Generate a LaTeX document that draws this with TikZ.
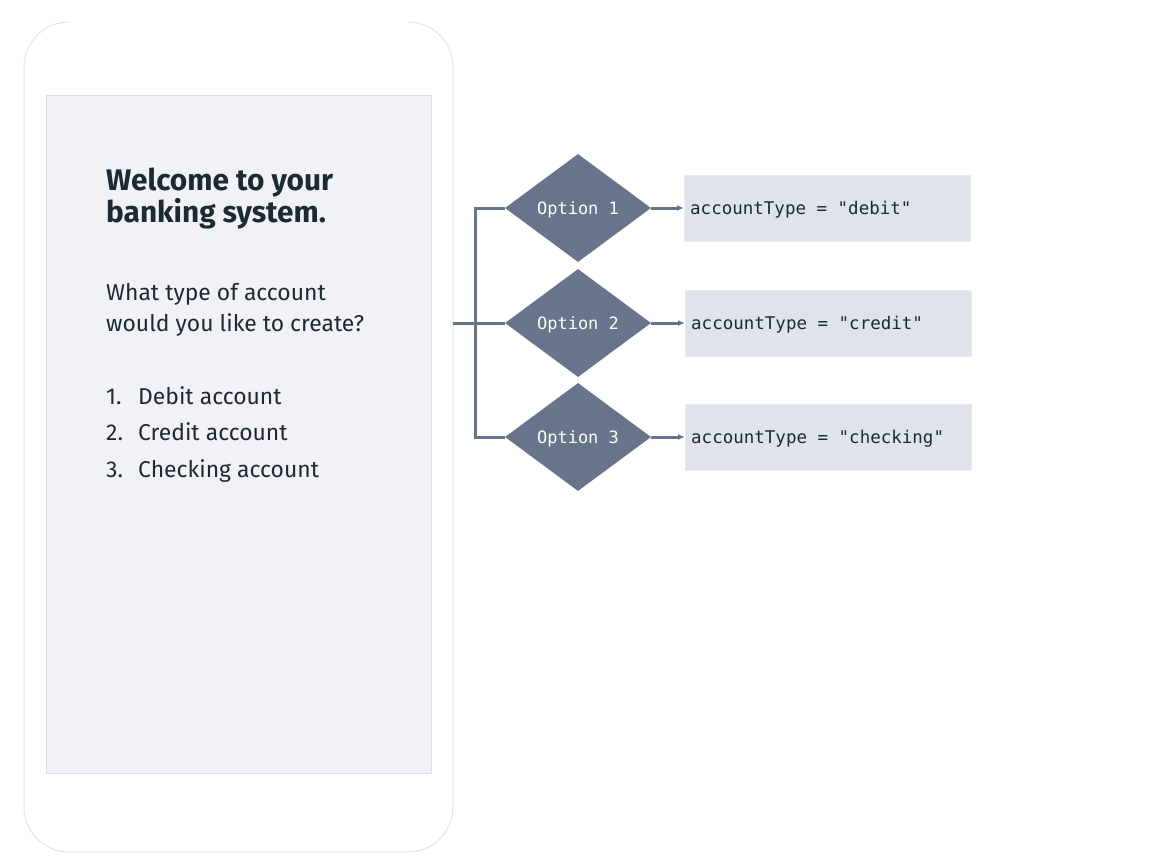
\documentclass[tikz,border=0pt]{standalone}
\usepackage{fontspec}
\setmainfont{Fira Sans}
\setmonofont{DejaVu Sans Mono}
\usetikzlibrary{shapes.geometric}
\usetikzlibrary{arrows.meta}
\definecolor{phoneline}{HTML}{E3E5EA}
\definecolor{screenfill}{HTML}{F1F2F6}
\definecolor{screenline}{HTML}{DCDFE5}
\definecolor{ink}{HTML}{1C2B33}
\definecolor{slate}{HTML}{67748A}
\definecolor{boxfill}{HTML}{DFE3EB}
\definecolor{boxline}{HTML}{E9ECF1}
\tikzstyle{decision}=[diamond, fill=slate, minimum width=146pt, minimum height=108pt, inner sep=0,
                      text depth=0pt, text=white, font=\ttfamily\fontsize{17}{17}\selectfont]
\tikzstyle{assign}=[rectangle, draw=boxline, fill=boxfill, minimum height=66pt, text width=274pt,
                    inner xsep=6pt, inner ysep=0, text depth=0pt, align=flush left, anchor=west,
                    text=ink, font=\ttfamily\fontsize{17.5}{17.5}\selectfont]
\tikzstyle{flow}=[draw=slate, line width=3pt]
\tikzstyle{screentext}=[inner sep=0, anchor=base west, text=ink]
\tikzstyle{heading}=[screentext, font=\fontsize{29.8}{29.8}\selectfont\fontseries{sb}\selectfont]
\tikzstyle{body}=[screentext, font=\fontsize{22.9}{22.9}\selectfont]

\begin{document}
\begin{tikzpicture}[x=1pt, y=-1pt]
        \useasboundingbox (0,0) rectangle (1156,855);
        % phone outline and screen
        \draw[phoneline, line width=1pt, rounded corners=45pt]
            (69,22) -- (24,22) -- (24,852) -- (453,852) -- (453,22) -- (408,22);
        \node[draw=screenline, fill=screenfill, minimum width=385pt, minimum height=678pt,
              anchor=north west, inner sep=0] (screen) at (46,95) {};
        \node[heading] (title1) at (106,190) {Welcome to your};
        \node[heading] (title2) at (106,222) {banking system.};
        \node[body] (ask1) at (106,300) {What type of account};
        \node[body] (ask2) at (106,331) {would you like to create?};
        \node[body] (num1) at (106,404) {1.};
        \node[body] (num2) at (106,440) {2.};
        \node[body] (num3) at (106,477) {3.};
        \node[body] (item1) at (138,404) {Debit account};
        \node[body] (item2) at (138,440) {Credit account};
        \node[body] (item3) at (138,477) {Checking account};
        % decisions
        \node[decision] (opt1) at (578,208) {Option 1};
        \node[decision] (opt2) at (578,323) {Option 2};
        \node[decision] (opt3) at (578,437) {Option 3};
        \node[assign] (type1) at (684,208) {accountType = "debit"};
        \node[assign] (type2) at (685,323) {accountType = "credit"};
        \node[assign] (type3) at (685,437) {accountType = "checking"};
        \coordinate (phone) at (453,323);
        \coordinate (fork1) at (475,208);
        \coordinate (fork3) at (475,437);
        \draw[flow] (phone) -- (opt2.west);
        \draw[flow] (opt1.west) -- (fork1) -- (fork3) -- (opt3.west);
        \draw[flow, -{Latex[length=7pt, width=6pt]}] (opt1.east) -- (type1.west);
        \draw[flow, -{Latex[length=7pt, width=6pt]}] (opt2.east) -- (type2.west);
        \draw[flow, -{Latex[length=7pt, width=6pt]}] (opt3.east) -- (type3.west);
    \end{tikzpicture}
\end{document}
